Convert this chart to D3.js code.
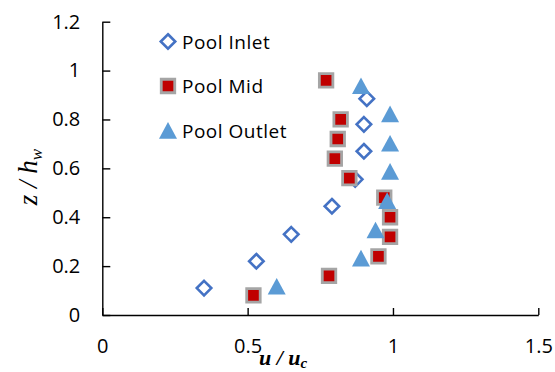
<!DOCTYPE html>
<html lang="en">
    <head>
        <meta charset="utf-8">
        <title>Velocity Profiles</title>
        <script type="text/javascript" src="https://d3js.org/d3.v7.min.js"></script>
        <style>
            body { margin: 0; background: #fff; }
            svg { display: block; }
        </style>
    </head>
    <body>
        <div id="chart"></div>
        <script type="text/javascript">

            var w = 555;
            var h = 372;

            var seriesNames = ["Pool Inlet", "Pool Mid", "Pool Outlet"];

            // u / uc values
            var inletU  = [0.35, 0.53, 0.65, 0.79, 0.87, 0.90, 0.90, 0.91];
            var inletZ  = [0.11, 0.22, 0.33, 0.445, 0.555, 0.67, 0.78, 0.885];

            var midU    = [0.52, 0.78, 0.95, 0.99, 0.99, 0.97, 0.85, 0.80, 0.81, 0.82, 0.77];
            var midZ    = [0.08, 0.16, 0.24, 0.32, 0.40, 0.48, 0.56, 0.64, 0.72, 0.80, 0.96];

            var outletU = [0.60, 0.89, 0.94, 0.98, 0.99, 0.99, 0.99, 0.89];
            var outletZ = [0.115, 0.23, 0.345, 0.465, 0.585, 0.70, 0.82, 0.935];

            var xTicks = [0, 0.5, 1, 1.5];
            var yTicks = [0, 0.2, 0.4, 0.6, 0.8, 1, 1.2];

            var xScale = d3.scaleLinear().domain([0, 1.5]).range([102.3, 538.3]);
            var yScale = d3.scaleLinear().domain([0, 1.2]).range([315, 21.7]);

            var svg = d3.select("#chart")
                        .append("svg")
                        .attr("width", w)
                        .attr("height", h);

            // marker shapes
            function diamond(s) {
                var r = s / 2;
                return "M0," + (-r) + "L" + r + ",0L0," + r + "L" + (-r) + ",0Z";
            }
            function square(s) {
                var r = s / 2;
                return "M" + (-r) + "," + (-r) + "H" + r + "V" + r + "H" + (-r) + "Z";
            }
            function triangle(s) {
                var r = s / 2;
                return "M0," + (-r) + "L" + r + "," + (r * 0.85) + "L" + (-r) + "," + (r * 0.85) + "Z";
            }

            var styles = [
                { path: diamond(14.5), fill: "#fff", stroke: "#4472C4", sw: 2.6 },
                { path: square(13.5), fill: "#C00000", stroke: "#A5A5A5", sw: 2.8 },
                { path: triangle(18), fill: "#5B9BD5", stroke: "none", sw: 0 }
            ];

            var series = [
                d3.zip(inletU, inletZ),
                d3.zip(midU, midZ),
                d3.zip(outletU, outletZ)
            ];

            //Axes
            var xAxis = d3.axisBottom(xScale)
                          .tickValues(xTicks)
                          .tickSizeInner(-7)
                          .tickSizeOuter(0)
                          .tickPadding(24)
                          .tickFormat(d3.format("~g"));

            var yAxis = d3.axisLeft(yScale)
                          .tickValues(yTicks)
                          .tickSizeInner(-8)
                          .tickSizeOuter(0)
                          .tickPadding(22)
                          .tickFormat(d3.format("~g"));

            var gx = svg.append("g")
                .attr("transform", "translate(0," + yScale(0) + ")")
                .call(xAxis);

            var gy = svg.append("g")
                .attr("transform", "translate(" + xScale(0) + ",0)")
                .call(yAxis);

            [gx, gy].forEach(function(g) {
                g.select(".domain").attr("stroke", "#000").attr("stroke-width", 1.4);
                g.selectAll(".tick line").attr("stroke", "#000").attr("stroke-width", 1.4);
                g.selectAll(".tick text")
                    .attr("fill", "#000")
                    .style("font-family", "'Open Sans', sans-serif")
                    .style("font-size", "20px");
            });

            // points
            series.forEach(function(data, i) {
                svg.append("g")
                    .selectAll("path")
                    .data(data)
                    .enter()
                    .append("path")
                    .attr("d", styles[i].path)
                    .attr("transform", function(d) {
                        return "translate(" + xScale(d[0]) + "," + yScale(d[1]) + ")";
                    })
                    .attr("fill", styles[i].fill)
                    .attr("stroke", styles[i].stroke)
                    .attr("stroke-width", styles[i].sw);
            });

            // legend
            var legend = svg.append("g");
            var legendY = [41.5, 86, 131];
            seriesNames.forEach(function(name, i) {
                legend.append("path")
                    .attr("d", styles[i].path)
                    .attr("transform", "translate(168," + legendY[i] + ")")
                    .attr("fill", styles[i].fill)
                    .attr("stroke", styles[i].stroke)
                    .attr("stroke-width", styles[i].sw);
                legend.append("text")
                    .attr("x", 182)
                    .attr("y", legendY[i] + 7)
                    .style("font-family", "'Open Sans', sans-serif")
                    .style("font-size", "19px")
                    .style("letter-spacing", "0.5px")
                    .text(name);
            });

            // axis titles
            var xt = svg.append("text")
                .attr("x", 259)
                .attr("y", 365)
                .style("font-family", "'Liberation Serif', serif")
                .style("font-style", "italic")
                .style("font-weight", "bold")
                .style("font-size", "22px");
            xt.append("tspan").text("u / u");
            xt.append("tspan").attr("dy", 3).style("font-size", "15px").text("c");

            var yt = svg.append("text")
                .attr("transform", "translate(37,177) rotate(-90)")
                .attr("text-anchor", "middle")
                .style("font-family", "'Liberation Serif', serif")
                .style("font-style", "italic")
                .style("font-size", "27px");
            yt.append("tspan").text("z / h");
            yt.append("tspan").attr("dy", 5).style("font-size", "17px").text("w");

        </script>
    </body>
</html>
